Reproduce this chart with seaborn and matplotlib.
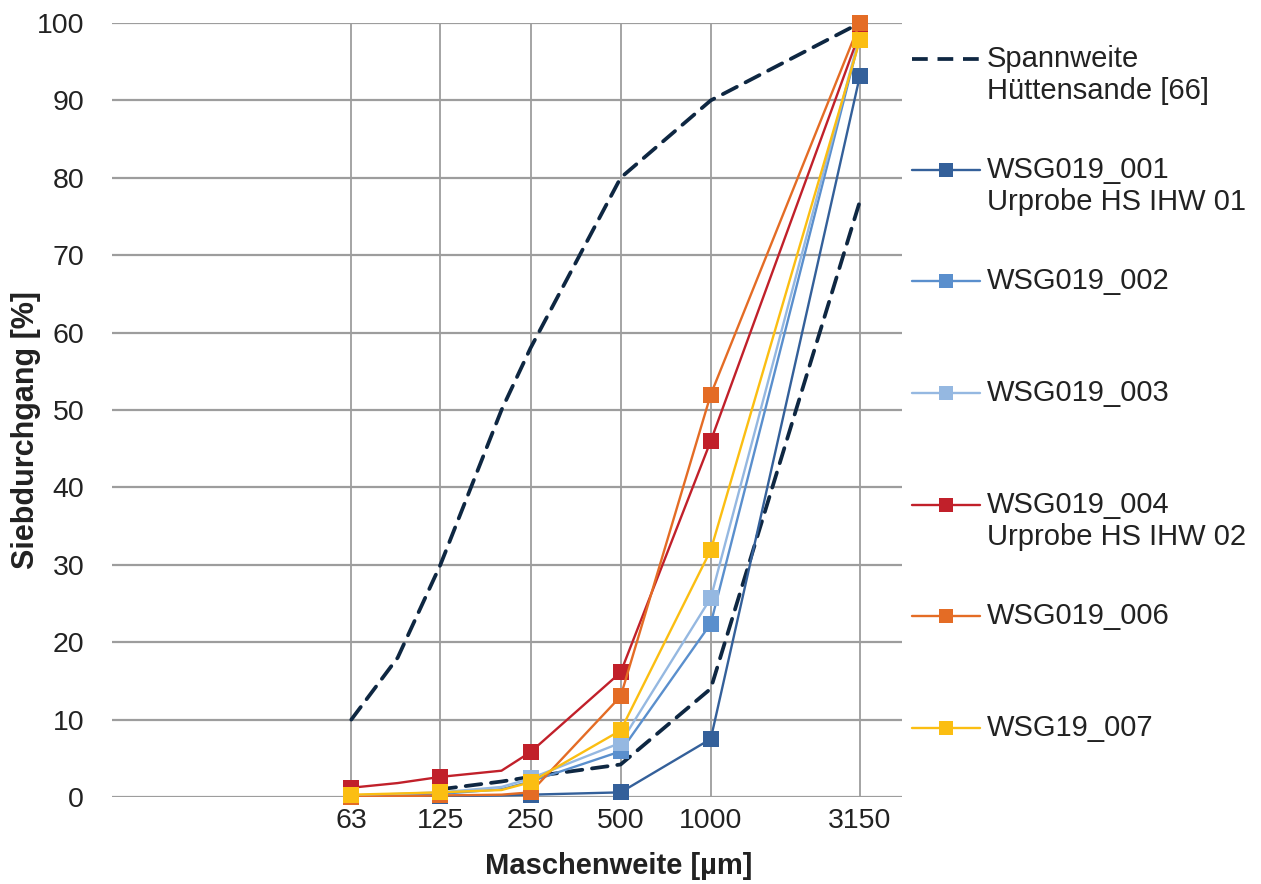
import matplotlib
matplotlib.use("Agg")
import matplotlib.pyplot as plt
from matplotlib.lines import Line2D
from matplotlib.ticker import FixedLocator, FixedFormatter, NullLocator
import seaborn as sns
import pandas as pd

# ---------------- data ----------------
sieve = [63, 90, 125, 200, 250, 500, 1000, 3150]
marked = [True, False, True, False, True, True, True, True]
tick_values = [63, 125, 250, 500, 1000, 3150]
tick_labels = ["63", "125", "250", "500", "1000", "3150"]

span_upper_x = [63, 90, 125, 200, 250, 500, 1000, 3150]
span_upper_y = [10, 18, 30, 50, 58, 80, 90, 100]
span_lower_x = [125, 200, 250, 500, 1000, 3150]
span_lower_y = [1.0, 2.0, 2.6, 4.2, 14, 77]

series_names = ["WSG019_001", "WSG019_002", "WSG019_003",
                "WSG019_004", "WSG019_006", "WSG19_007"]
legend_labels = ["WSG019_001\nUrprobe HS IHW 01", "WSG019_002", "WSG019_003",
                 "WSG019_004\nUrprobe HS IHW 02", "WSG019_006", "WSG19_007"]
wsg001 = [0.0, 0.05, 0.1, 0.2, 0.3, 0.6, 7.5, 93.2]
wsg002 = [0.1, 0.2, 0.4, 1.0, 2.0, 5.9, 22.4, 98.2]
wsg003 = [0.2, 0.4, 0.6, 1.3, 2.4, 7.0, 25.7, 98.5]
wsg004 = [1.2, 1.8, 2.6, 3.4, 5.8, 16.1, 46.0, 98.8]
wsg006 = [0.0, 0.1, 0.2, 0.3, 0.6, 13.0, 52.0, 100.0]
wsg007 = [0.3, 0.45, 0.6, 0.9, 1.9, 8.6, 31.9, 97.8]
series_values = [wsg001, wsg002, wsg003, wsg004, wsg006, wsg007]
colors = ["#34609a", "#5a8fcd", "#95b8e1", "#c1202a", "#e46c25", "#fbbe12"]
span_color = "#0e2742"
span_label = "Spannweite\nHüttensande [66]"

# ---------------- style ----------------
sns.set_style("white")
plt.rcParams["font.family"] = ["Liberation Sans", "DejaVu Sans"]
W, H = 1261, 884
fig = plt.figure(figsize=(W / 100, H / 100), dpi=100)
ax = fig.add_axes([112 / W, 1 - 797 / H, (902 - 112) / W, (797 - 23) / H])
ax.set_xscale("log")

grid_c = "#9d9d9d"
for v in range(0, 101, 10):
    ax.axhline(v, color=grid_c, lw=1.6, zorder=0)
for v in tick_values:
    ax.axvline(v, color=grid_c, lw=1.3, zorder=0)

dash_kw = dict(color=span_color, lw=2.7, dashes=(4.2, 2.6), dash_capstyle="round")
sns.lineplot(x=span_upper_x, y=span_upper_y, ax=ax, estimator=None, sort=False, zorder=2, **dash_kw)
sns.lineplot(x=span_lower_x, y=span_lower_y, ax=ax, estimator=None, sort=False, zorder=2, **dash_kw)

for i, (vals, c) in enumerate(zip(series_values, colors)):
    sns.lineplot(x=sieve, y=vals, ax=ax, color=c, lw=1.7, estimator=None, sort=False,
                 zorder=3 + i)
    df = pd.DataFrame({"x": sieve, "y": vals, "m": marked})
    df = df[df["m"]]
    sns.scatterplot(data=df, x="x", y="y", ax=ax, color=c, marker="s", s=135,
                    linewidth=0, zorder=3.5 + i, clip_on=False)

ax.set_xlim(10, 4353)
ax.set_ylim(0, 100)
ax.xaxis.set_major_locator(FixedLocator(tick_values))
ax.xaxis.set_major_formatter(FixedFormatter(tick_labels))
ax.xaxis.set_minor_locator(NullLocator())
ax.set_yticks(range(0, 101, 10))
ax.tick_params(axis="both", length=0, labelsize=20.5, colors="#222222")
ax.tick_params(axis="y", pad=20)
ax.tick_params(axis="x", pad=8)
for s in ax.spines.values():
    s.set_visible(False)
ax.grid(False)

ax_w, ax_h = 902 - 112, 797 - 23
ax.set_xlabel("Maschenweite [µm]", fontsize=21, fontweight="bold", color="#222222")
ax.xaxis.set_label_coords((619 - 112) / ax_w, -(866 - 797) / ax_h)
ax.xaxis.label.set_va("center")
ax.set_ylabel("Siebdurchgang [%]", fontsize=22, fontweight="bold", color="#222222")
ax.yaxis.set_label_coords(-(112 - 26) / ax_w, (797 - 430) / ax_h)
ax.yaxis.label.set_va("center")

# ---------------- legend (manual, right side) ----------------
lx0, lx1, lmx, ltx = 912, 980, 946, 987
entry_y = [59, 170, 281, 393, 505, 616, 728]
line_gap = 32
all_labels = [span_label] + legend_labels
all_colors = [span_color] + colors
for k, (yy, lab, c) in enumerate(zip(entry_y, all_labels, all_colors)):
    yf = 1 - yy / H
    if k == 0:
        fig.add_artist(Line2D([lx0 / W, lx1 / W], [yf, yf], transform=fig.transFigure,
                              color=c, lw=2.7, dashes=(4.2, 2.6)))
    else:
        fig.add_artist(Line2D([lx0 / W, lx1 / W], [yf, yf], transform=fig.transFigure,
                              color=c, lw=1.7))
        fig.add_artist(Line2D([lmx / W], [yf], transform=fig.transFigure, color=c, marker="s",
                              markersize=10, markeredgewidth=0, linestyle="none"))
    for j, part in enumerate(lab.split("\n")):
        fig.text(ltx / W, 1 - (yy + j * line_gap) / H, part, ha="left", va="center",
                 fontsize=21, color="#222222")

fig.savefig("out.png", dpi=100)
